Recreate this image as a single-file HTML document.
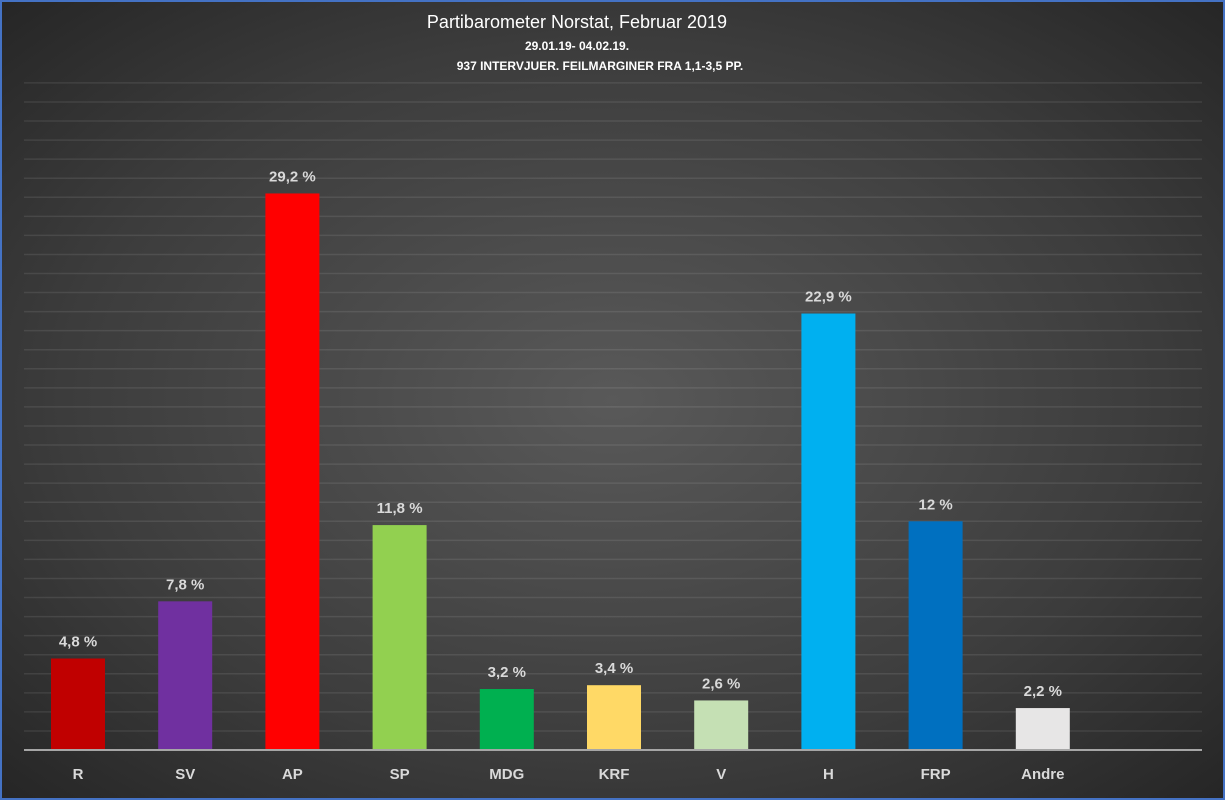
<!DOCTYPE html>
<html><head><meta charset="utf-8"><style>
html,body{margin:0;padding:0}
body{width:1225px;height:800px;overflow:hidden;font-family:"Liberation Sans",sans-serif}
#c{position:absolute;left:0;top:0;width:1221px;height:796px;border:2px solid #4472c4;background:radial-gradient(ellipse 75% 75% at 50% 50%,#595959 0%,#3c3c3c 60%,#222 100%)}
</style></head><body><div id="c"></div>
<svg width="1225" height="800" style="position:absolute;left:0;top:0">
<g stroke="rgba(255,255,255,0.09)" stroke-width="1.5" id="g"></g>
<text x="577" y="28" fill="#fff" font-size="18" text-anchor="middle">Partibarometer Norstat, Februar 2019</text>
<text x="577" y="50" fill="#fff" font-size="12" font-weight="bold" text-anchor="middle">29.01.19- 04.02.19.</text>
<text x="600" y="70" fill="#fff" font-size="12" font-weight="bold" text-anchor="middle">937 INTERVJUER. FEILMARGINER FRA 1,1-3,5 PP.</text>
<g id="b"></g>
<line x1="24" y1="750" x2="1202" y2="750" stroke="#a6a6a6" stroke-width="2"/>
</svg>
<script>
var g=document.getElementById('g'),b=document.getElementById('b'),ns='http://www.w3.org/2000/svg';
for(var k=1;k<=35;k++){var y=750-k*19.06;var l=document.createElementNS(ns,'line');l.setAttribute('x1',24);l.setAttribute('x2',1202);l.setAttribute('y1',y);l.setAttribute('y2',y);g.appendChild(l);}
var d=[['R',4.8,'#c00000'],['SV',7.8,'#7030a0'],['AP',29.2,'#ff0000'],['SP',11.8,'#92d050'],['MDG',3.2,'#00b050'],['KRF',3.4,'#ffd966'],['V',2.6,'#c5e0b4'],['H',22.9,'#00b0f0'],['FRP',12,'#0070c0'],['Andre',2.2,'#e7e6e6']];
d.forEach(function(e,i){var cx=78+i*107.2,h=e[1]*19.06,y=750-h;
var r=document.createElementNS(ns,'rect');r.setAttribute('x',cx-27);r.setAttribute('y',y);r.setAttribute('width',54);r.setAttribute('height',h);r.setAttribute('fill',e[2]);b.appendChild(r);
var t=document.createElementNS(ns,'text');t.setAttribute('x',cx);t.setAttribute('y',y-12);t.setAttribute('fill','#d9d9d9');t.setAttribute('font-size','15');t.setAttribute('font-weight','bold');t.setAttribute('text-anchor','middle');t.textContent=String(e[1]).replace('.',',')+' %';b.appendChild(t);
var u=document.createElementNS(ns,'text');u.setAttribute('x',cx);u.setAttribute('y',779);u.setAttribute('fill','#d9d9d9');u.setAttribute('font-size','15');u.setAttribute('font-weight','bold');u.setAttribute('text-anchor','middle');u.textContent=e[0];b.appendChild(u);});
</script>
</body></html>
